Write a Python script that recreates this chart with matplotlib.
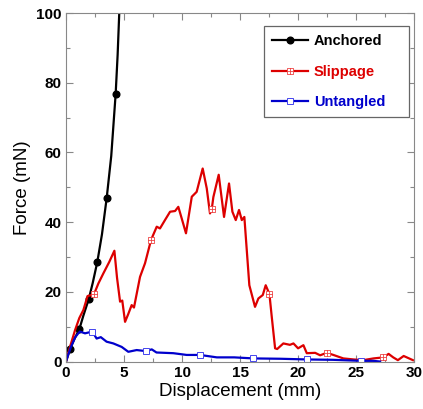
import matplotlib
matplotlib.use('Agg')
import matplotlib.pyplot as plt
from matplotlib.path import Path
from matplotlib.patches import Rectangle
from matplotlib.ticker import MultipleLocator

plt.rcParams['font.family'] = ['Liberation Sans', 'DejaVu Sans']

# anchored curve (black)
anch_d = [0, 0.34, 0.7, 1.15, 1.5, 1.96, 2.3, 2.7, 3.1, 3.51, 3.9, 4.28, 4.45, 4.59, 4.7]
anch_f = [0, 3.6, 6.3, 9.3, 13.2, 17.9, 22.5, 28.6, 36.5, 47.0, 59.0, 76.8, 88.0, 100.0, 108.0]
anch_mark = [1, 3, 5, 7, 9, 11]

# slippage curve (red)
slip_d = [0, 0.4, 0.78, 1.15, 1.5, 1.86, 2.41, 2.79, 3.22, 3.73, 4.17, 4.4, 4.66, 4.85, 5.09,
          5.35, 5.66, 5.86, 6.38, 6.81, 7.33, 7.82, 8.1, 8.53, 8.97, 9.4, 9.68, 9.97, 10.34,
          10.84, 11.26, 11.78, 12.13, 12.41, 12.56, 12.7, 13.16, 13.62, 14.05, 14.34, 14.63,
          14.91, 15.15, 15.37, 15.8, 16.29, 16.58, 16.96, 17.21, 17.53, 17.73, 18.02, 18.2,
          18.73, 19.3, 19.6, 20.0, 20.46, 20.75, 21.47, 21.9, 22.47, 23.04, 23.9, 24.8, 25.6,
          26.5, 27.35, 27.8, 28.2, 28.6, 29.1, 29.9]
slip_f = [0, 4.8, 9.0, 12.5, 14.8, 18.8, 19.3, 22.4, 25.3, 28.6, 31.8, 24.0, 17.2, 17.5, 11.4,
          13.5, 16.2, 15.5, 24.3, 28.2, 34.9, 38.7, 38.2, 40.6, 43.0, 43.2, 44.4, 41.1, 36.8,
          47.3, 48.7, 55.4, 49.7, 42.5, 43.7, 47.2, 53.6, 41.5, 51.1, 43.0, 40.6,
          43.5, 40.6, 41.5, 21.9, 15.7, 18.1, 19.1, 21.9, 19.4, 12.9, 3.8, 3.6,
          5.2, 4.8, 5.2, 3.8, 4.7, 2.4, 2.5, 1.8, 2.5, 1.9, 0.9, 0.6, 0.4,
          0.9, 1.2, 2.2, 1.2, 0.4, 1.6, 0.4]
slip_mark = [6, 20, 34, 49, 61, 67]

# untangled curve (blue)
unt_d = [0, 0.4, 0.8, 1.06, 1.2, 1.64, 2.27, 2.64, 3.0, 3.5, 4.08, 4.8, 5.37, 6.09, 6.9, 7.39,
         7.8, 9.25, 10.4, 11.55, 13.0, 14.5, 16.15, 18.5, 20.8, 23.0, 25.4, 26.5, 27.07]
unt_f = [0, 4.0, 7.0, 8.1, 8.6, 8.1, 8.6, 6.6, 7.0, 5.7, 5.2, 4.2, 2.8, 3.3, 3.0, 3.5,
         2.6, 2.4, 1.9, 1.9, 1.2, 1.2, 0.9, 0.8, 0.6, 0.5, 0.2, 0.2, 0.0]
unt_mark = [6, 14, 19, 22, 24, 26]

# square with a cross inside
box_plus = Path([(-1, -1), (1, -1), (1, 1), (-1, 1), (-1, -1),
                 (-1, 0), (1, 0), (0, -1), (0, 1)],
                [Path.MOVETO, Path.LINETO, Path.LINETO, Path.LINETO, Path.CLOSEPOLY,
                 Path.MOVETO, Path.LINETO, Path.MOVETO, Path.LINETO])

red = '#dd0000'
blue = '#0000cc'

fig = plt.figure(figsize=(4.23, 4.09), dpi=100, facecolor='white')
ax = fig.add_axes([0.156, 0.116, 0.823, 0.852])

ax.plot(anch_d, anch_f, color='black', lw=1.6, marker='o', ms=4.8,
        markevery=anch_mark, label='Anchored')
ax.plot(slip_d, slip_f, color=red, lw=1.6, marker=box_plus, ms=5, mfc='white',
        mec='#ee4444', mew=0.6, markevery=slip_mark, label='Slippage')
ax.plot(unt_d, unt_f, color=blue, lw=1.6, marker='s', ms=5, mfc='white',
        mec='#4444ee', mew=0.7, markevery=unt_mark, label='Untangled')

ax.set_xlim(0, 30)
ax.set_ylim(0, 100)
ax.xaxis.set_major_locator(MultipleLocator(5))
ax.xaxis.set_minor_locator(MultipleLocator(2.5))
ax.yaxis.set_major_locator(MultipleLocator(20))
ax.yaxis.set_minor_locator(MultipleLocator(10))
ax.tick_params(which='both', direction='in', top=True, right=True, color='#888888')
ax.tick_params(which='major', length=5, width=0.8, labelsize=11, pad=3)
ax.tick_params(which='minor', length=3, width=0.8)
for lab in ax.get_xticklabels() + ax.get_yticklabels():
    lab.set_fontweight('bold')
for sp in ax.spines.values():
    sp.set_color('#888888')
    sp.set_linewidth(0.8)

ax.set_xlabel('Displacement (mm)', fontsize=13.5, labelpad=2)
ax.set_ylabel('Force (mN)', fontsize=13.5, labelpad=4)

# legend box drawn by hand (the original has a wide right margin)
ax.add_patch(Rectangle((0.569, 0.702), 0.417, 0.261, transform=ax.transAxes,
                       facecolor='white', edgecolor='#666666', lw=0.9, zorder=4))
leg = ax.legend(loc='center left', bbox_to_anchor=(0.592, 0.832), borderaxespad=0,
                frameon=False, handlelength=2.45, labelspacing=1.15, borderpad=0,
                handletextpad=0.4, prop={'weight': 'bold', 'size': 10.5})
leg.set_zorder(5)
for txt, col in zip(leg.get_texts(), ['black', red, blue]):
    txt.set_color(col)

fig.savefig('out.png', dpi=100)
